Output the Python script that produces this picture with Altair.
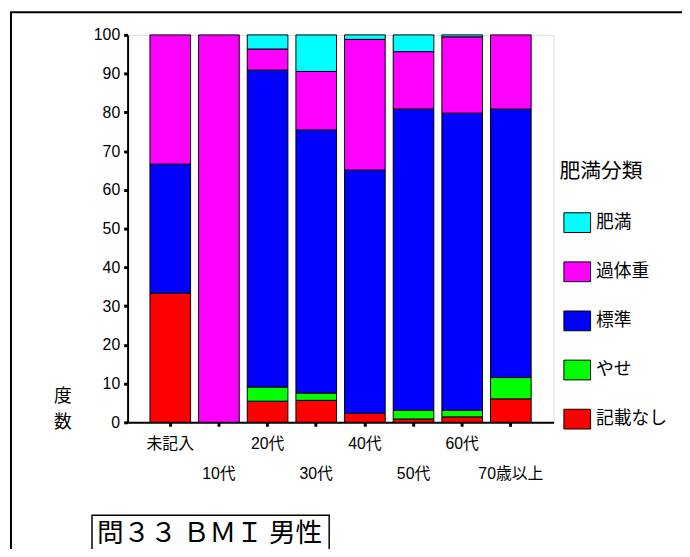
import altair as alt
import pandas as pd

categories = ["未記入", "10代", "20代", "30代", "40代", "50代", "60代", "70歳以上"]
series_names = ["肥満", "過体重", "標準", "やせ", "記載なし"]
series_colors = ["#00FFFF", "#FF00FF", "#0000FF", "#00FF00", "#FF0000"]

kisai_nashi = [33.33, 0, 5.45, 5.66, 2.33, 0.87, 1.40, 6.05]
yase = [0, 0, 3.64, 1.89, 0, 2.20, 1.70, 5.50]
hyojun = [33.33, 0, 81.82, 67.92, 62.79, 77.80, 76.70, 69.30]
kataiju = [33.34, 100, 5.45, 15.09, 33.72, 14.80, 19.70, 19.15]
himan = [0, 0, 3.64, 9.43, 1.16, 4.33, 0.50, 0]

y_ticks = [0, 10, 20, 30, 40, 50, 60, 70, 80, 90, 100]
lower_row_labels = ["10代", "30代", "50代", "70歳以上"]
legend_title = "肥満分類"
y_title = ["度", "数"]
caption = "問３３ ＢＭＩ 男性"

stack_series = [
    ("記載なし", kisai_nashi),
    ("やせ", yase),
    ("標準", hyojun),
    ("過体重", kataiju),
    ("肥満", himan),
]
rows = []
for idx, (name, vals) in enumerate(stack_series):
    for cat, v in zip(categories, vals):
        if v > 0:
            rows.append({"年代": cat, "分類": name, "値": v, "順": idx})
df = pd.DataFrame(rows)

JP = "Noto Sans CJK JP"
LAT = "Liberation Sans, Noto Sans CJK JP"

lower_test = "indexof(" + str(lower_row_labels) + ", datum.value) >= 0"

bars = alt.Chart(df).mark_bar(stroke="black", strokeWidth=1).encode(
    x=alt.X(
        "年代:N",
        sort=categories,
        scale=alt.Scale(paddingInner=0.165, paddingOuter=0.46),
        axis=alt.Axis(
            title=None,
            labelAngle=0,
            labelFont=LAT,
            labelFontSize=16,
            labelColor="black",
            labelOverlap=False,
            labelBaseline="top",
            labelPadding={"condition": {"test": lower_test, "value": 40}, "value": 10},
            tickSize=4,
            tickWidth=3,
            tickColor="black",
            domainColor="black",
            domainWidth=2,
        ),
    ),
    y=alt.Y(
        "値:Q",
        stack="zero",
        scale=alt.Scale(domain=[0, 100], nice=False),
        axis=alt.Axis(
            values=y_ticks,
            grid=False,
            title=y_title,
            titleAngle=0,
            titleAlign="center",
            titleBaseline="top",
            titleX=-66,
            titleY=357,
            titleFont=JP,
            titleFontSize=18,
            titleFontWeight="normal",
            titleLineHeight=26,
            titleColor="black",
            labelFont=LAT,
            labelFontSize=16,
            labelColor="black",
            labelPadding=4,
            tickSize=4,
            tickWidth=3,
            tickColor="black",
            domainColor="black",
            domainWidth=2,
        ),
    ),
    color=alt.Color(
        "分類:N",
        scale=alt.Scale(domain=series_names, range=series_colors),
        legend=alt.Legend(
            orient="none",
            legendX=437,
            legendY=128,
            title=legend_title,
            titleFont=JP,
            titleFontSize=21,
            titleFontWeight="normal",
            titleColor="black",
            titlePadding=27,
            labelFont=JP,
            labelFontSize=18,
            labelColor="black",
            labelOffset=5,
            symbolType="M-1,-0.74H1V0.74H-1Z",
            symbolSize=729,
            symbolStrokeColor="black",
            symbolStrokeWidth=1,
            symbolOpacity=1,
            symbolOffset=4,
            rowPadding=23.7,
            padding=0,
        ),
    ),
    order=alt.Order("順:Q", sort="ascending"),
)

one = alt.Data(values=[{"k": 1}])

frame = alt.Chart(one).mark_rect(fill=None, stroke="black", strokeWidth=2).encode(
    x=alt.value(-118), x2=alt.value(700), y=alt.value(-23), y2=alt.value(700)
)

caption_box = alt.Chart(one).mark_rect(fill=None, stroke="black", strokeWidth=1.5).encode(
    x=alt.value(-36), x2=alt.value(204), y=alt.value(486), y2=alt.value(700)
)

caption_text = alt.Chart(one).mark_text(
    text=caption, font=JP, fontSize=27, align="left", baseline="middle", color="black"
).encode(x=alt.value(-31), y=alt.value(505))

chart = alt.layer(frame, bars, caption_box, caption_text).properties(
    width=431,
    height=392,
    padding={"left": 121, "top": 24, "right": 130, "bottom": 125},
    autosize=alt.AutoSizeParams(type="none"),
).configure_view(stroke="black", strokeWidth=1).configure(background="white")

chart.save("out.html", embed_options={"renderer": "svg", "actions": False})
